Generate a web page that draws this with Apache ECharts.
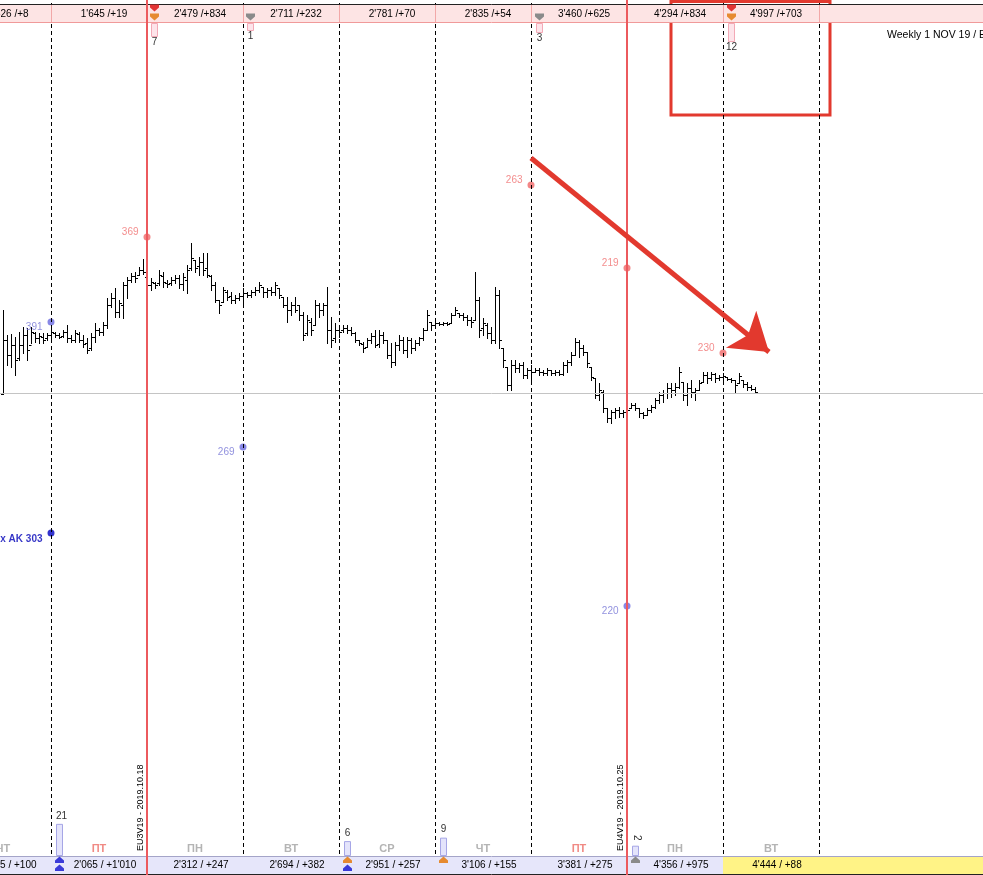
<!DOCTYPE html>
<html>
<head>
<meta charset="utf-8">
<title>Weekly 1 NOV 19</title>
<script src="https://cdn.jsdelivr.net/npm/echarts@6/dist/echarts.min.js"></script>
<style>
  html, body { margin: 0; padding: 0; background: #fff; }
  #chart { width: 983px; height: 875px; }
</style>
</head>
<body>
<div id="chart"></div>
<script>
// hourly bars, 24 per day; bar 0 = first hour of Friday 18 Oct
const barStart = -12

const highs = [
  1.1183, 1.1158, 1.1159, 1.1156, 1.1161, 1.1166, 1.1165, 1.1166, 1.1161, 1.1160,
  1.1160, 1.1160, 1.1165, 1.1161, 1.1160, 1.1163, 1.1168, 1.1158, 1.1163, 1.1161,
  1.1158, 1.1155, 1.1160, 1.1170, 1.1165, 1.1171, 1.1195, 1.1200, 1.1205, 1.1193,
  1.1211, 1.1216, 1.1220, 1.1221, 1.1226, 1.1234, 1.1216, 1.1215, 1.1211, 1.1223,
  1.1221, 1.1213, 1.1216, 1.1218, 1.1218, 1.1220, 1.1228, 1.1250, 1.1233, 1.1236,
  1.1240, 1.1240, 1.1218, 1.1211, 1.1193, 1.1206, 1.1203, 1.1201, 1.1198, 1.1200,
  1.1205, 1.1201, 1.1203, 1.1206, 1.1211, 1.1206, 1.1205, 1.1206, 1.1211, 1.1205,
  1.1196, 1.1196, 1.1191, 1.1196, 1.1188, 1.1181, 1.1178, 1.1175, 1.1193, 1.1190,
  1.1190, 1.1206, 1.1176, 1.1170, 1.1168, 1.1168, 1.1168, 1.1166, 1.1161, 1.1153,
  1.1151, 1.1155, 1.1160, 1.1163, 1.1163, 1.1161, 1.1153, 1.1150, 1.1151, 1.1158,
  1.1156, 1.1156, 1.1155, 1.1153, 1.1156, 1.1165, 1.1183, 1.1171, 1.1171, 1.1171,
  1.1171, 1.1171, 1.1180, 1.1186, 1.1180, 1.1180, 1.1178, 1.1176, 1.1221, 1.1196,
  1.1175, 1.1170, 1.1166, 1.1206, 1.1203, 1.1145, 1.1126, 1.1133, 1.1133, 1.1130,
  1.1131, 1.1125, 1.1128, 1.1125, 1.1125, 1.1123, 1.1125, 1.1123, 1.1123, 1.1123,
  1.1131, 1.1133, 1.1141, 1.1155, 1.1153, 1.1148, 1.1141, 1.1126, 1.1115, 1.1110,
  1.1103, 1.1085, 1.1083, 1.1085, 1.1086, 1.1083, 1.1086, 1.1090, 1.1090, 1.1085,
  1.1081, 1.1085, 1.1088, 1.1095, 1.1101, 1.1103, 1.1110, 1.1110, 1.1110, 1.1126,
  1.1111, 1.1110, 1.1113, 1.1105, 1.1113, 1.1121, 1.1121, 1.1121, 1.1120, 1.1118,
  1.1120, 1.1116, 1.1115, 1.1113, 1.1120, 1.1113, 1.1111, 1.1108, 1.1106
]
const lows = [
  1.1099, 1.1128, 1.1126, 1.1118, 1.1133, 1.1140, 1.1133, 1.1150, 1.1151, 1.1150,
  1.1150, 1.1153, 1.1153, 1.1156, 1.1155, 1.1156, 1.1151, 1.1151, 1.1151, 1.1151,
  1.1146, 1.1140, 1.1143, 1.1151, 1.1158, 1.1158, 1.1165, 1.1186, 1.1176, 1.1176,
  1.1175, 1.1195, 1.1211, 1.1211, 1.1218, 1.1219, 1.1201, 1.1203, 1.1205, 1.1208,
  1.1206, 1.1206, 1.1208, 1.1210, 1.1205, 1.1203, 1.1200, 1.1223, 1.1221, 1.1218,
  1.1218, 1.1216, 1.1203, 1.1191, 1.1180, 1.1191, 1.1193, 1.1190, 1.1190, 1.1193,
  1.1186, 1.1196, 1.1196, 1.1198, 1.1201, 1.1196, 1.1196, 1.1198, 1.1198, 1.1195,
  1.1186, 1.1171, 1.1178, 1.1181, 1.1173, 1.1153, 1.1158, 1.1158, 1.1168, 1.1176,
  1.1178, 1.1150, 1.1146, 1.1151, 1.1156, 1.1161, 1.1160, 1.1158, 1.1151, 1.1148,
  1.1141, 1.1146, 1.1150, 1.1146, 1.1146, 1.1150, 1.1135, 1.1126, 1.1128, 1.1143,
  1.1140, 1.1136, 1.1140, 1.1143, 1.1148, 1.1153, 1.1163, 1.1163, 1.1166, 1.1168,
  1.1168, 1.1168, 1.1170, 1.1178, 1.1176, 1.1173, 1.1168, 1.1166, 1.1173, 1.1156,
  1.1158, 1.1155, 1.1150, 1.1150, 1.1145, 1.1126, 1.1103, 1.1103, 1.1121, 1.1121,
  1.1115, 1.1115, 1.1113, 1.1121, 1.1118, 1.1118, 1.1118, 1.1118, 1.1118, 1.1118,
  1.1118, 1.1121, 1.1128, 1.1138, 1.1136, 1.1138, 1.1126, 1.1113, 1.1095, 1.1093,
  1.1081, 1.1071, 1.1070, 1.1075, 1.1076, 1.1076, 1.1076, 1.1085, 1.1083, 1.1076,
  1.1075, 1.1078, 1.1081, 1.1085, 1.1090, 1.1091, 1.1095, 1.1096, 1.1098, 1.1105,
  1.1093, 1.1088, 1.1096, 1.1093, 1.1103, 1.1111, 1.1110, 1.1113, 1.1111, 1.1113,
  1.1111, 1.1113, 1.1111, 1.1101, 1.1110, 1.1106, 1.1103, 1.1103, 1.1100
]
const opens = [
  1.1099, 1.1153, 1.1138, 1.1148, 1.1135, 1.1148, 1.1158, 1.1148, 1.1160, 1.1155,
  1.1156, 1.1155, 1.1158, 1.1160, 1.1158, 1.1157, 1.1161, 1.1155, 1.1153, 1.1159,
  1.1153, 1.1150, 1.1145, 1.1156, 1.1163, 1.1161, 1.1168, 1.1188, 1.1195, 1.1181,
  1.1188, 1.1208, 1.1213, 1.1217, 1.1218, 1.1223, 1.1216, 1.1208, 1.1210, 1.1210,
  1.1217, 1.1210, 1.1210, 1.1213, 1.1215, 1.1209, 1.1213, 1.1225, 1.1233, 1.1227,
  1.1231, 1.1225, 1.1217, 1.1208, 1.1193, 1.1191, 1.1201, 1.1197, 1.1193, 1.1195,
  1.1197, 1.1200, 1.1198, 1.1201, 1.1203, 1.1206, 1.1201, 1.1203, 1.1201, 1.1205,
  1.1196, 1.1188, 1.1183, 1.1188, 1.1188, 1.1178, 1.1160, 1.1171, 1.1168, 1.1188,
  1.1183, 1.1188, 1.1163, 1.1155, 1.1163, 1.1163, 1.1165, 1.1163, 1.1160, 1.1153,
  1.1149, 1.1146, 1.1153, 1.1157, 1.1149, 1.1158, 1.1153, 1.1138, 1.1131, 1.1148,
  1.1153, 1.1143, 1.1153, 1.1145, 1.1150, 1.1155, 1.1163, 1.1171, 1.1168, 1.1170,
  1.1169, 1.1170, 1.1170, 1.1178, 1.1180, 1.1178, 1.1176, 1.1173, 1.1173, 1.1193,
  1.1165, 1.1168, 1.1160, 1.1153, 1.1198, 1.1145, 1.1126, 1.1108, 1.1128, 1.1125,
  1.1128, 1.1118, 1.1123, 1.1121, 1.1123, 1.1121, 1.1120, 1.1123, 1.1120, 1.1121,
  1.1119, 1.1128, 1.1131, 1.1138, 1.1151, 1.1145, 1.1141, 1.1126, 1.1115, 1.1098,
  1.1101, 1.1085, 1.1075, 1.1081, 1.1083, 1.1080, 1.1081, 1.1085, 1.1088, 1.1085,
  1.1080, 1.1078, 1.1083, 1.1086, 1.1093, 1.1098, 1.1100, 1.1105, 1.1103, 1.1106,
  1.1111, 1.1098, 1.1105, 1.1101, 1.1103, 1.1111, 1.1118, 1.1115, 1.1119, 1.1115,
  1.1116, 1.1116, 1.1114, 1.1113, 1.1110, 1.1113, 1.1109, 1.1106, 1.1104
]
const closes = [
  1.1153, 1.1138, 1.1148, 1.1133, 1.1148, 1.1158, 1.1143, 1.1161, 1.1155, 1.1157,
  1.1153, 1.1158, 1.1161, 1.1158, 1.1156, 1.1161, 1.1155, 1.1153, 1.1160, 1.1153,
  1.1149, 1.1143, 1.1156, 1.1163, 1.1161, 1.1168, 1.1188, 1.1195, 1.1181, 1.1190,
  1.1208, 1.1213, 1.1217, 1.1215, 1.1223, 1.1221, 1.1208, 1.1211, 1.1208, 1.1218,
  1.1211, 1.1209, 1.1213, 1.1215, 1.1209, 1.1216, 1.1223, 1.1235, 1.1225, 1.1231,
  1.1223, 1.1218, 1.1208, 1.1193, 1.1188, 1.1203, 1.1196, 1.1193, 1.1195, 1.1197,
  1.1200, 1.1198, 1.1201, 1.1203, 1.1208, 1.1201, 1.1203, 1.1201, 1.1208, 1.1198,
  1.1188, 1.1183, 1.1188, 1.1183, 1.1178, 1.1158, 1.1173, 1.1163, 1.1188, 1.1183,
  1.1188, 1.1163, 1.1153, 1.1163, 1.1161, 1.1165, 1.1163, 1.1160, 1.1153, 1.1150,
  1.1145, 1.1153, 1.1157, 1.1148, 1.1158, 1.1153, 1.1138, 1.1131, 1.1148, 1.1153,
  1.1143, 1.1153, 1.1145, 1.1150, 1.1155, 1.1163, 1.1178, 1.1168, 1.1170, 1.1169,
  1.1170, 1.1169, 1.1178, 1.1183, 1.1178, 1.1176, 1.1173, 1.1171, 1.1193, 1.1163,
  1.1170, 1.1160, 1.1153, 1.1198, 1.1153, 1.1133, 1.1108, 1.1128, 1.1125, 1.1128,
  1.1118, 1.1123, 1.1121, 1.1123, 1.1121, 1.1120, 1.1123, 1.1120, 1.1121, 1.1119,
  1.1128, 1.1131, 1.1138, 1.1151, 1.1145, 1.1141, 1.1130, 1.1116, 1.1098, 1.1103,
  1.1085, 1.1075, 1.1081, 1.1083, 1.1080, 1.1081, 1.1083, 1.1088, 1.1085, 1.1080,
  1.1078, 1.1083, 1.1086, 1.1093, 1.1098, 1.1100, 1.1105, 1.1103, 1.1106, 1.1121,
  1.1098, 1.1105, 1.1101, 1.1103, 1.1110, 1.1118, 1.1115, 1.1119, 1.1115, 1.1116,
  1.1117, 1.1114, 1.1113, 1.1108, 1.1117, 1.1109, 1.1106, 1.1104, 1.1101
]

// days, from Thursday 17 Oct (partly visible) to Tuesday 29 Oct
const dayFirstBar = [-24, 0, 24, 48, 72, 96, 120, 144, 168]
const dayNames = ['ЧТ', 'ПТ', 'ПН', 'ВТ', 'СР', 'ЧТ', 'ПТ', 'ПН', 'ВТ']
const dayTopTotals = ["1'626 /+8", "1'645 /+19", "2'479 /+834", "2'711 /+232", "2'781 /+70",
  "2'835 /+54", "3'460 /+625", "4'294 /+834", "4'997 /+703"]
const dayBottomTotals = ["1'055 / +100", "2'065 / +1'010", "2'312 / +247", "2'694 / +382", "2'951 / +257",
  "3'106 / +155", "3'381 / +275", "4'356 / +975", "4'444 / +88"]
const dayLines = [0, 48, 72, 96, 120, 168, 192]

const expiryAt = [24, 144]
const expiryText = ['EU3V19 - 2019.10.18', 'EU4V19 - 2019.10.25']

const levelAt = [24, 0, 48, 120, 144, 168, 144, 0]
const levelPrice = [1.1256, 1.1171, 1.1046, 1.1308, 1.1225, 1.1140, 1.0887, 1.0960]
const levelText = ['369', '391', '269', '263', '219', '230', '220', 'x AK 303']
const levelKind = ['call', 'put', 'put', 'call', 'call', 'call', 'put', 'ak']

const basePrice = 1.1100
const trendFrom = [120, 1.1335]
const trendTo = [179.5, 1.1141]
const focusBox = [[155, 1.1378], [194.75, 1.14915]]

const topFlagAt = [25.75, 49.75, 122, 170]
const topFlagCount = [7, 1, 3, 12]
const topFlagIcons = [['red', 'orange'], ['gray'], ['gray'], ['red', 'orange']]
const bottomFlagAt = [2, 74, 98, 146]
const bottomFlagCount = [21, 6, 9, 2]
const bottomFlagIcons = [['blue', 'blue'], ['orange', 'blue'], ['orange'], ['gray']]

const FONT = 'Liberation Sans'
const RED_LINE = '#ec5a5e'
const kindStyle = {
  call: { color: '#f06868', label: '#f07070', lift: -5, bold: false },
  put: { color: '#6a6ae0', label: '#7676d6', lift: 5, bold: false },
  ak: { color: '#0000c0', label: '#0000b8', lift: 6, bold: true }
}
const iconColor = { red: '#e23434', orange: '#e68a30', gray: '#8a8a8a', blue: '#3a3ad8' }

const ohlc = highs.map((h, k) => [barStart + k, opens[k], closes[k], lows[k], h])

// bar with open tick on the left and close tick on the right
function renderOhlc (params, api) {
  const x = Math.round(api.coord([api.value(0), 0])[0]) + 0.5
  const yOf = (v) => Math.round(api.coord([0, v])[1]) + 0.5
  const o = yOf(api.value(1))
  const c = yOf(api.value(2))
  const l = yOf(api.value(3))
  const h = yOf(api.value(4))
  return {
    type: 'group',
    children: [
      { type: 'line', shape: { x1: x, y1: h - 0.5, x2: x, y2: l + 0.5 }, style: { stroke: '#000', lineWidth: 1 } },
      { type: 'line', shape: { x1: x - 2.5, y1: o, x2: x, y2: o }, style: { stroke: '#000', lineWidth: 1 } },
      { type: 'line', shape: { x1: x, y1: c, x2: x + 2.5, y2: c }, style: { stroke: '#000', lineWidth: 1 } }
    ]
  }
}

// full-height expiry line, one per expiry bar
function renderExpiry (params, api) {
  const x = Math.round(api.coord([api.value(0), 0])[0])
  return {
    type: 'rect',
    shape: { x: x - 1, y: 0, width: 2, height: api.getHeight() },
    style: { fill: RED_LINE }
  }
}

const option = {
  animation: false,
  textStyle: { fontFamily: FONT },
  grid: { left: 0, right: 0, top: 0, bottom: 0 },
  xAxis: { type: 'value', min: -12.75, max: 233, show: false, splitLine: { show: false } },
  yAxis: { type: 'value', min: 1.0618, max: 1.1493, show: false, splitLine: { show: false } },
  series: [
    {
      name: 'grid',
      type: 'line',
      z: 1,
      data: [],
      markLine: {
        silent: true,
        symbol: 'none',
        label: { show: false },
        lineStyle: { color: '#000', width: 1, type: [4, 3] },
        data: dayLines.map(v => ({ xAxis: v })).concat([
          { yAxis: basePrice, lineStyle: { color: '#c4c4c4', type: 'solid', width: 1 } }
        ])
      }
    },
    {
      name: 'EURUSD H1',
      type: 'custom',
      z: 3,
      renderItem: renderOhlc,
      encode: { x: 0, y: [1, 2, 3, 4] },
      data: ohlc
    },
    {
      name: 'levels',
      type: 'scatter',
      z: 4,
      symbolSize: 7,
      data: levelAt.map((at, k) => {
        const s = kindStyle[levelKind[k]]
        return {
          value: [at, levelPrice[k]],
          itemStyle: { color: s.color },
          label: {
            show: true,
            position: 'left',
            distance: 5,
            offset: [0, s.lift],
            formatter: levelText[k],
            color: s.label,
            fontSize: 10,
            fontWeight: s.bold ? 'bold' : 'normal'
          }
        }
      })
    },
    {
      name: 'expiry',
      type: 'custom',
      z: 20,
      silent: true,
      clip: false,
      renderItem: renderExpiry,
      encode: { x: 0, y: 1 },
      data: expiryAt.map(at => [at, basePrice])
    },
    {
      name: 'focus',
      type: 'scatter',
      z: 21,
      data: [],
      markArea: {
        silent: true,
        itemStyle: { color: 'rgba(0,0,0,0)', borderColor: '#e2392e', borderWidth: 3 },
        data: [[{ coord: focusBox[0] }, { coord: focusBox[1] }]]
      }
    },
    {
      name: 'trend',
      type: 'lines',
      coordinateSystem: 'cartesian2d',
      z: 21,
      silent: true,
      symbol: ['none', 'arrow'],
      symbolSize: 36,
      lineStyle: { color: '#e2392e', width: 5, opacity: 1 },
      data: [{ coords: [trendFrom, trendTo] }]
    }
  ]
}

const chart = echarts.init(document.getElementById('chart'))
chart.setOption(option)

// strips, flags and captions around the plot, placed on the bar axis
const px = (v) => Math.round(chart.convertToPixel({ xAxisIndex: 0 }, v))
const W = chart.getWidth()
const g = []
const txt = (text, x, y, extra) => ({
  type: 'text',
  z: 6,
  silent: true,
  style: Object.assign({ text, x, y, fill: '#000', font: '10px ' + FONT, textAlign: 'center', textVerticalAlign: 'middle' }, extra)
})
const arrowDown = (x, y, color) => ({
  type: 'polygon', z: 6, silent: true,
  shape: { points: [[x - 4.5, y - 3.5], [x + 4.5, y - 3.5], [x + 4.5, y - 0.5], [x, y + 3.5], [x - 4.5, y - 0.5]] },
  style: { fill: color }
})
const arrowUp = (x, y, color) => ({
  type: 'polygon', z: 6, silent: true,
  shape: { points: [[x, y - 3.5], [x + 4.5, y + 0.5], [x + 4.5, y + 3], [x - 4.5, y + 3], [x - 4.5, y + 0.5]] },
  style: { fill: color }
})

// top strip
g.push({ type: 'rect', z: 5, silent: true, shape: { x: 0, y: 4, width: W, height: 18 }, style: { fill: '#fde4e4' } })
g.push({ type: 'line', z: 5, silent: true, shape: { x1: 0, y1: 4.5, x2: W, y2: 4.5 }, style: { stroke: '#222', lineWidth: 1 } })
g.push({ type: 'line', z: 5, silent: true, shape: { x1: 0, y1: 22.5, x2: W, y2: 22.5 }, style: { stroke: '#f09a9a', lineWidth: 1 } })
dayFirstBar.concat([192]).forEach(b => {
  const x = px(b) + 0.5
  g.push({ type: 'line', z: 5, silent: true, shape: { x1: x, y1: 5, x2: x, y2: 22 }, style: { stroke: '#f2a8a8', lineWidth: 1 } })
})

// bottom strip
const yellowFrom = px(168)
g.push({ type: 'rect', z: 5, silent: true, shape: { x: 0, y: 857, width: yellowFrom, height: 17 }, style: { fill: '#e6e6fa' } })
g.push({ type: 'rect', z: 5, silent: true, shape: { x: yellowFrom, y: 857, width: W - yellowFrom, height: 17 }, style: { fill: '#fff386' } })
g.push({ type: 'line', z: 5, silent: true, shape: { x1: 0, y1: 856.5, x2: W, y2: 856.5 }, style: { stroke: '#a4a4c8', lineWidth: 1 } })
g.push({ type: 'line', z: 5, silent: true, shape: { x1: 0, y1: 874.5, x2: W, y2: 874.5 }, style: { stroke: '#222', lineWidth: 1 } })

dayFirstBar.forEach((b, k) => {
  const mid = px(b + 12)
  g.push(txt(dayTopTotals[k], mid + 5, 14))
  g.push(txt(dayBottomTotals[k], mid + 6, 865))
  g.push(txt(dayNames[k], mid, 849, {
    font: 'bold 11px ' + FONT,
    fill: dayNames[k] === 'ПТ' ? '#f08a84' : '#b4b4b4'
  }))
})

topFlagAt.forEach((at, k) => {
  const x = px(at) + 0.5
  const icons = topFlagIcons[k]
  icons.forEach((c, j) => {
    g.push(arrowDown(x, 17 - (icons.length - 1 - j) * 9, iconColor[c]))
  })
  const h = 6 + topFlagCount[k]
  g.push({ type: 'rect', z: 6, silent: true, shape: { x: x - 3, y: 23.5, width: 6, height: h }, style: { fill: '#fde4ea', stroke: '#f3a9b6', lineWidth: 1 } })
  g.push(txt(String(topFlagCount[k]), x, 23 + h + 6, { fill: '#333' }))
})

bottomFlagAt.forEach((at, k) => {
  const x = px(at) + 0.5
  bottomFlagIcons[k].forEach((c, j) => {
    g.push(arrowUp(x, 860 + j * 8, iconColor[c]))
  })
  const h = 7 + bottomFlagCount[k] * 1.15
  g.push({ type: 'rect', z: 6, silent: true, shape: { x: x - 3, y: 855.5 - h, width: 6, height: h }, style: { fill: '#e4e4fb', stroke: '#a6a6e6', lineWidth: 1 } })
  const label = String(bottomFlagCount[k])
  if (label.length === 1 && at > 120) {
    g.push({ type: 'text', z: 6, silent: true, x: x + 1, y: 847 - h, rotation: -Math.PI / 2, style: { text: label, x: 0, y: 0, fill: '#333', font: '10px ' + FONT, textAlign: 'center', textVerticalAlign: 'middle' } })
  } else {
    g.push(txt(label, x + (label.length > 1 ? 2 : 0), 855 - h - 8, { fill: '#333' }))
  }
})

expiryAt.forEach((at, k) => {
  g.push({
    type: 'text', z: 9, silent: true,
    x: px(at) - 6, y: 851, rotation: Math.PI / 2,
    style: { text: expiryText[k], x: 0, y: 0, fill: '#000', font: '9px ' + FONT, textAlign: 'left', textVerticalAlign: 'middle' }
  })
})

g.push(txt('Weekly 1 NOV 19 / EU1X19', 887, 35, { textAlign: 'left', font: '10.5px ' + FONT }))

chart.setOption({ graphic: { elements: g } })
</script>
</body>
</html>
